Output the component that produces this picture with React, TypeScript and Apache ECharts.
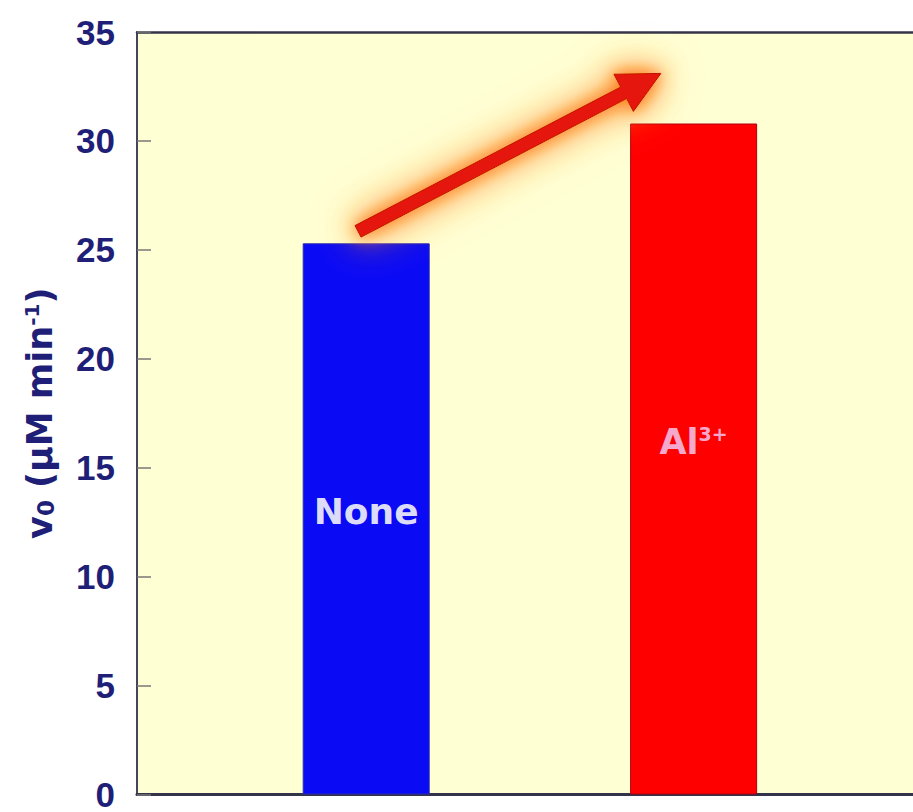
import React, { useEffect, useRef } from "react";
import * as echarts from "echarts";

const categories = ["None", "Al³⁺"];
const values = [25.3, 30.8];
const barColors = ["#0a0af5", "#ff0000"];
const yTicks = [0, 5, 10, 15, 20, 25, 30, 35];
// arrow annotation anchors in data space [x, y]
const arrowStart = [0.975, 25.85];
const arrowTip = [1.9, 33.1];

const NAVY = "#1f1f78";
const FONT_B = "DejaVu Sans";

export default function App() {
  const ref = useRef<HTMLDivElement>(null);
  useEffect(() => {
    document.body.style.margin = "0";
    const chart = echarts.init(ref.current!, null, { renderer: "svg" });
    const labelRich = {
      b: { fontSize: 35, fontWeight: "bold", fontFamily: FONT_B, color: "#f5a8cc" },
      s: { fontSize: 19, fontWeight: "bold", fontFamily: FONT_B, color: "#f5a8cc", verticalAlign: "top" },
      w: { fontSize: 36, fontWeight: "bold", fontFamily: FONT_B, color: "#dcdcf8" },
    };
    const option: any = {
      animation: false,
      backgroundColor: "#ffffff",
      grid: {
        left: 137,
        top: 32,
        bottom: 16,
        right: 0,
        show: true,
        backgroundColor: "#ffffd4",
        borderWidth: 0,
      },
      xAxis: [
        {
          type: "value",
          min: 0.3,
          max: 2.67,
          axisLine: { show: true, onZero: false, lineStyle: { color: "#33334a", width: 3 } },
          axisTick: { show: false },
          axisLabel: { show: false },
          splitLine: { show: false },
        },
        {
          type: "value",
          position: "top",
          min: 0.3,
          max: 2.67,
          axisLine: { show: true, onZero: false, lineStyle: { color: "#33334a", width: 2.5 } },
          axisTick: { show: false },
          axisLabel: { show: false },
          splitLine: { show: false },
        },
      ],
      yAxis: {
        type: "value",
        min: yTicks[0],
        max: yTicks[yTicks.length - 1],
        interval: 5,
        axisLine: { show: true, lineStyle: { color: "#44445a", width: 2 } },
        axisTick: { show: true, inside: true, length: 14, lineStyle: { color: "#777777", width: 1.5 } },
        splitLine: { show: false },
        axisLabel: {
          margin: 22,
          fontSize: 35,
          fontWeight: "bold",
          fontFamily: "Liberation Sans",
          color: NAVY,
        },
        name: "{m|v}{sub|0}{m| (µM min}{sup|-1}{m|)}",
        nameLocation: "middle",
        nameGap: 80,
        nameRotate: 90,
        nameTextStyle: {
          rich: {
            m: { fontSize: 35, fontWeight: "bold", fontFamily: FONT_B, color: NAVY },
            sub: { fontSize: 23, fontWeight: "bold", fontFamily: FONT_B, color: NAVY, verticalAlign: "bottom" },
            sup: { fontSize: 20, fontWeight: "bold", fontFamily: FONT_B, color: NAVY, verticalAlign: "top" },
          },
        },
      },
      series: [
        {
          type: "bar",
          barWidth: 127,
          data: categories.map((c, i) => ({
            value: [i + 1, values[i]],
            name: c,
            itemStyle: {
              color: barColors[i],
              borderColor: i === 0 ? "#2a2ab0" : "#b00010",
              borderWidth: 1,
            },
            label: {
              show: true,
              position: ["50%", i === 0 ? 268 : 318],
              align: "center",
              verticalAlign: "middle",
              formatter: i === 0 ? "{w|None}" : "{b|Al}{s|3+}",
              rich: labelRich,
            },
          })),
        },
      ],
    };
    chart.setOption(option);

    const p0 = chart.convertToPixel({ gridIndex: 0 }, arrowStart) as number[];
    const p1 = chart.convertToPixel({ gridIndex: 0 }, arrowTip) as number[];
    const dx = p1[0] - p0[0];
    const dy = p1[1] - p0[1];
    const len = Math.sqrt(dx * dx + dy * dy);
    const ux = dx / len, uy = dy / len;
    const nx = -uy, ny = ux;
    const shaftHalf = 6.5, headHalf = 21, headLen = 42;
    const bx = p1[0] - ux * headLen, by = p1[1] - uy * headLen;
    const pts = [
      [p0[0] + nx * shaftHalf, p0[1] + ny * shaftHalf],
      [bx + nx * shaftHalf, by + ny * shaftHalf],
      [bx + nx * headHalf, by + ny * headHalf],
      [p1[0], p1[1]],
      [bx - nx * headHalf, by - ny * headHalf],
      [bx - nx * shaftHalf, by - ny * shaftHalf],
      [p0[0] - nx * shaftHalf, p0[1] - ny * shaftHalf],
    ];
    const glow = (z: number, blur: number) => ({
      type: "polygon",
      shape: { points: pts },
      z,
      style: {
        fill: "#ff9a40",
        shadowBlur: blur,
        shadowColor: "rgba(255,140,40,1)",
      },
    });
    chart.setOption({
      graphic: [
        glow(97, 45),
        glow(98, 30),
        {
          type: "polygon",
          shape: { points: pts },
          z: 100,
          style: {
            fill: "#e41808",
            stroke: "#c01000",
            lineWidth: 1,
            shadowBlur: 16,
            shadowColor: "rgba(255,120,20,1)",
          },
        },
      ],
    });
    return () => chart.dispose();
  }, []);
  return <div ref={ref} style={{ width: 913, height: 812 }} />;
}
